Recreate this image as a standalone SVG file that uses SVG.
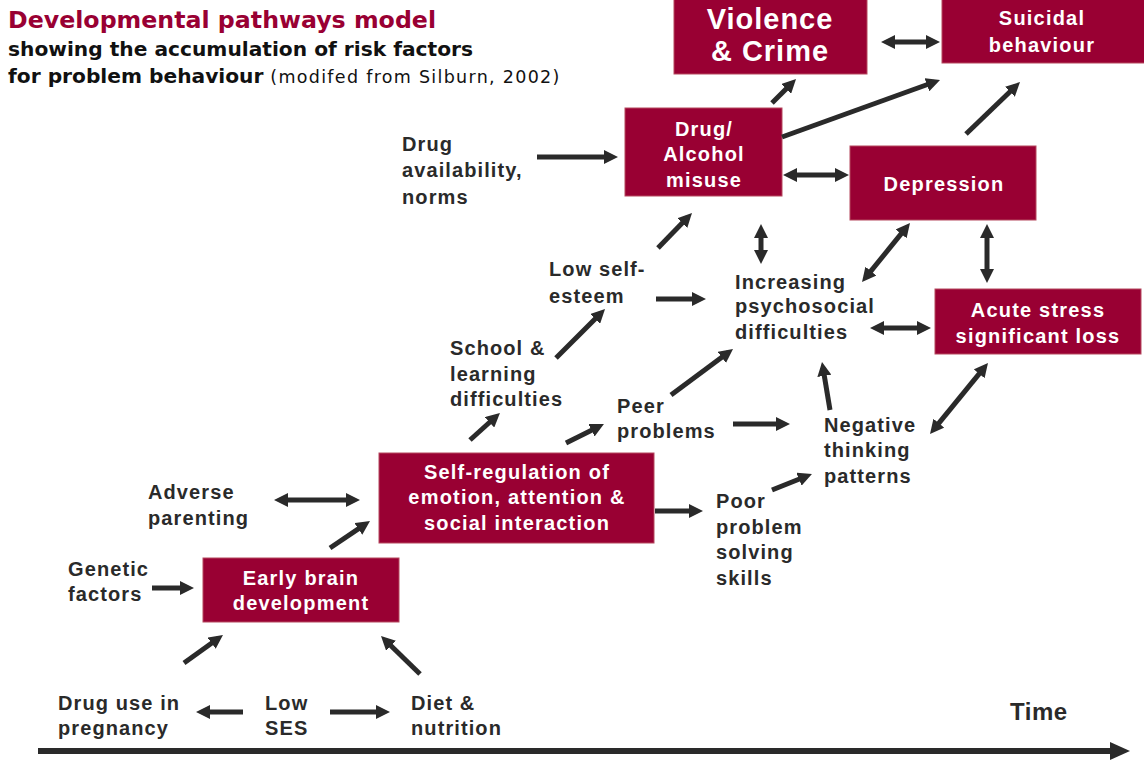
<svg xmlns="http://www.w3.org/2000/svg" width="1144" height="761" viewBox="0 0 1144 761">
<style>
.box{fill:#990033;stroke:#b5485f;stroke-width:1}
.bt{font-family:"Liberation Sans",Arial,sans-serif;font-weight:bold;fill:#fff;text-anchor:middle;font-size:20px;letter-spacing:1.2px}
.lt{font-family:"Liberation Sans",Arial,sans-serif;font-weight:bold;fill:#2a2a2a;font-size:20px;letter-spacing:1.1px}
.big{font-size:29px;letter-spacing:1px}
.c line{stroke:#2a2a2a;stroke-width:5;fill:none}
.title{font-family:"DejaVu Sans",Verdana,sans-serif;font-weight:bold}
</style>
<defs>
<marker id="ah" viewBox="0 0 14 14" refX="8" refY="7" markerWidth="14" markerHeight="14" markerUnits="userSpaceOnUse" orient="auto-start-reverse">
<path d="M0,0 L14,7 L0,14 Z" fill="#2a2a2a"/>
</marker>
<marker id="ahT" viewBox="0 0 20 18" refX="10" refY="9" markerWidth="20" markerHeight="18" markerUnits="userSpaceOnUse" orient="auto">
<path d="M0,0 L20,9 L0,18 Z" fill="#2a2a2a"/>
</marker>
</defs>
<rect width="1144" height="761" fill="#fff"/>

<g id="title">
<text class="title" x="8" y="28" style="font-size:23.7px" fill="#990033">Developmental pathways model</text>
<text class="title" x="8" y="56" style="font-size:20.2px" fill="#111">showing the accumulation of risk factors</text>
<text x="8" y="83" fill="#111"><tspan class="title" style="font-size:20.2px">for problem behaviour</tspan><tspan style="font-family:'DejaVu Sans',Verdana,sans-serif;font-size:17.5px;letter-spacing:1.3px"> (modifed from Silburn, 2002)</tspan></text>
</g>

<g id="violence"><rect class="box" x="674" y="-2" width="193" height="76"/>
<text class="bt big" x="770" y="29">Violence</text><text class="bt big" x="770" y="61">&amp; Crime</text></g>
<g id="suicidal"><rect class="box" x="942" y="-2" width="204" height="65"/>
<text class="bt" x="1042" y="25">Suicidal</text><text class="bt" x="1042" y="52">behaviour</text></g>
<g id="drugalcohol"><rect class="box" x="625" y="108" width="157" height="88"/>
<text class="bt" x="704" y="136">Drug/</text><text class="bt" x="704" y="161">Alcohol</text><text class="bt" x="704" y="187">misuse</text></g>
<g id="depression"><rect class="box" x="850" y="146" width="186" height="74"/>
<text class="bt" x="944" y="191">Depression</text></g>
<g id="acute"><rect class="box" x="935" y="289" width="206" height="65"/>
<text class="bt" x="1038" y="317">Acute stress</text><text class="bt" x="1038" y="343">significant loss</text></g>
<g id="selfreg"><rect class="box" x="379" y="453" width="275" height="90"/>
<text class="bt" x="517" y="479">Self-regulation of</text><text class="bt" x="517" y="504">emotion, attention &amp;</text><text class="bt" x="517" y="530">social interaction</text></g>
<g id="earlybrain"><rect class="box" x="203" y="558" width="196" height="64"/>
<text class="bt" x="301" y="585">Early brain</text><text class="bt" x="301" y="610">development</text></g>

<g id="drugavail"><text class="lt" x="402" y="151">Drug</text><text class="lt" x="402" y="177">availability,</text><text class="lt" x="402" y="204">norms</text></g>
<g id="lowself"><text class="lt" x="549" y="276">Low self-</text><text class="lt" x="549" y="303">esteem</text></g>
<g id="increasing"><text class="lt" x="735" y="289">Increasing</text><text class="lt" x="735" y="313">psychosocial</text><text class="lt" x="735" y="339">difficulties</text></g>
<g id="school"><text class="lt" x="450" y="355">School &amp;</text><text class="lt" x="450" y="381">learning</text><text class="lt" x="450" y="406">difficulties</text></g>
<g id="peer"><text class="lt" x="617" y="413">Peer</text><text class="lt" x="617" y="438">problems</text></g>
<g id="negative"><text class="lt" x="824" y="432">Negative</text><text class="lt" x="824" y="457">thinking</text><text class="lt" x="824" y="483">patterns</text></g>
<g id="adverse"><text class="lt" x="148" y="499">Adverse</text><text class="lt" x="148" y="525">parenting</text></g>
<g id="poor"><text class="lt" x="716" y="508">Poor</text><text class="lt" x="716" y="534">problem</text><text class="lt" x="716" y="559">solving</text><text class="lt" x="716" y="585">skills</text></g>
<g id="genetic"><text class="lt" x="68" y="576">Genetic</text><text class="lt" x="68" y="601">factors</text></g>
<g id="druguse"><text class="lt" x="58" y="710">Drug use in</text><text class="lt" x="58" y="735">pregnancy</text></g>
<g id="lowses"><text class="lt" x="265" y="710">Low</text><text class="lt" x="265" y="735">SES</text></g>
<g id="diet"><text class="lt" x="411" y="710">Diet &amp;</text><text class="lt" x="411" y="735">nutrition</text></g>
<g id="time"><text class="lt" x="1010" y="720" style="font-size:24px;letter-spacing:0.5px">Time</text></g>

<g class="c" id="connectors">
<line x1="887" y1="42" x2="934" y2="42" marker-start="url(#ah)" marker-end="url(#ah)"/>
<line x1="772" y1="103" x2="791.8" y2="83.2" marker-end="url(#ah)"/>
<line x1="782" y1="137" x2="934.4" y2="82" marker-end="url(#ah)"/>
<line x1="966" y1="134" x2="1015.7" y2="86.2" marker-end="url(#ah)"/>
<line x1="789" y1="175" x2="843" y2="175" marker-start="url(#ah)" marker-end="url(#ah)"/>
<line x1="537" y1="157" x2="612" y2="157" marker-end="url(#ah)"/>
<line x1="658" y1="248" x2="687.8" y2="217.3" marker-end="url(#ah)"/>
<line x1="761" y1="230" x2="761" y2="258" marker-start="url(#ah)" marker-end="url(#ah)"/>
<line x1="865.8" y1="277.3" x2="906.2" y2="227.7" marker-start="url(#ah)" marker-end="url(#ah)"/>
<line x1="987" y1="230" x2="987" y2="277" marker-start="url(#ah)" marker-end="url(#ah)"/>
<line x1="656" y1="299" x2="700" y2="299" marker-end="url(#ah)"/>
<line x1="876" y1="328" x2="925" y2="328" marker-start="url(#ah)" marker-end="url(#ah)"/>
<line x1="556" y1="358" x2="600.8" y2="313.2" marker-end="url(#ah)"/>
<line x1="671" y1="395" x2="728.2" y2="352.6" marker-end="url(#ah)"/>
<line x1="830" y1="410" x2="823" y2="367.9" marker-end="url(#ah)"/>
<line x1="733" y1="424" x2="784" y2="424" marker-end="url(#ah)"/>
<line x1="933.8" y1="429.4" x2="984.2" y2="367.6" marker-start="url(#ah)" marker-end="url(#ah)"/>
<line x1="772" y1="490" x2="806.4" y2="476.2" marker-end="url(#ah)"/>
<line x1="655" y1="511" x2="697" y2="511" marker-end="url(#ah)"/>
<line x1="470" y1="440" x2="495.5" y2="417" marker-end="url(#ah)"/>
<line x1="566" y1="443" x2="598.6" y2="426.7" marker-end="url(#ah)"/>
<line x1="280" y1="500" x2="354" y2="500" marker-start="url(#ah)" marker-end="url(#ah)"/>
<line x1="330" y1="548" x2="365" y2="524.4" marker-end="url(#ah)"/>
<line x1="152" y1="588" x2="188" y2="588" marker-end="url(#ah)"/>
<line x1="184" y1="663" x2="218.1" y2="638.5" marker-end="url(#ah)"/>
<line x1="420" y1="674" x2="385.3" y2="640.2" marker-end="url(#ah)"/>
<line x1="243" y1="712" x2="202" y2="712" marker-end="url(#ah)"/>
<line x1="330" y1="712" x2="384" y2="712" marker-end="url(#ah)"/>
<line x1="38" y1="751" x2="1120" y2="751" style="stroke-width:6" marker-end="url(#ahT)"/>
</g>
</svg>
